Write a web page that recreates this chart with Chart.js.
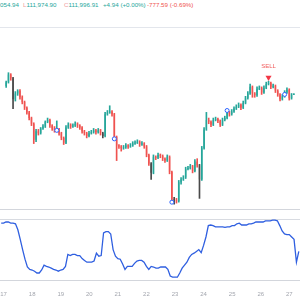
<!DOCTYPE html>
<html>
<head>
<meta charset="utf-8">
<script src="https://cdn.jsdelivr.net/npm/chart.js@4.4.1/dist/chart.umd.min.js"></script>
<style>
    html, body { margin: 0; padding: 0; background: #ffffff; }
    #wrap { position: relative; width: 300px; height: 300px; overflow: hidden; font-family: "Liberation Sans", Arial, sans-serif; }
    .hdr { position: absolute; top: 0; font-size: 6.2px; line-height: 10px; white-space: nowrap; }
    .up { color: #26a69a; }
    .dn { color: #ef5350; }
    .lbl { color: #f0a0a0; }
    .sep { position: absolute; left: 0; width: 300px; height: 1px; }
    canvas { position: absolute; left: 0; }
</style>
</head>
<body>
<div id="wrap">
    <div class="hdr up" style="left:0">054.94</div>
    <div class="hdr" style="left:23px"><span class="lbl">L</span><span class="up">111,974.90</span></div>
    <div class="hdr" style="left:64px"><span class="lbl">C</span><span class="up">111,996.91</span></div>
    <div class="hdr up" style="left:103px">+4.94 (+0.00%)</div>
    <div class="hdr dn" style="left:147px">-777.59 (-0.69%)</div>

    <div class="sep" style="top:27px; background:#e3e6ec"></div>
    <div class="sep" style="top:209px; background:#d3d6dc"></div>
    <div class="sep" style="top:219px; background:#d8dbe1"></div>
    <div class="sep" style="top:280px; background:#d3d6dc"></div>

    <canvas id="priceChart" width="300" height="182" style="top:28px"></canvas>
    <canvas id="oscChart" width="300" height="90" style="top:210px"></canvas>
</div>

<script>
// 2h candles, first one starts Aug 16 22:00
const firstOpen = 112720;

const close = [
    113040, 113680, 113360, 111600, 112080, 112320, 111760, 111360, 110880, 110480,
    110000, 109520, 108160, 108880, 108720, 109120, 109280, 109680, 109840, 109360,
    109120, 108960, 109040, 108720, 108320, 107920, 109200, 109440, 109280, 109360,
    109520, 109360, 109200, 108880, 108720, 108480, 108720, 108800, 108960, 108800,
    108960, 108720, 108480, 110320, 110480, 110560, 110320, 108400, 107680, 107600,
    107440, 107520, 107680, 107600, 107680, 107840, 107920, 108000, 107760, 107840,
    107600, 106880, 106160, 105360, 106720, 106640, 106880, 106800, 106560, 106400,
    106720, 105440, 103120, 103040, 102960, 104560, 104800, 104960, 105680, 105760,
    105920, 105520, 106320, 106000, 104800, 107440, 109040, 109840, 109680, 109440,
    109840, 109920, 109760, 109440, 109840, 110000, 110480, 110320, 110560, 110800,
    110960, 111120, 110880, 111280, 111680, 112080, 112640, 112080, 111920, 112480,
    112560, 112160, 112560, 112880, 112960, 112640, 112720, 112320, 112000, 111600,
    111840, 112160, 112400, 111680, 111991.97, 111996.91
];

const high = [
    113120, 113840, 113760, 113440, 112240, 112400, 112400, 111880, 111440, 110960,
    110560, 110080, 109600, 109040, 109040, 109200, 109440, 109760, 110000, 109920,
    109440, 109280, 109760, 109120, 108800, 108400, 109360, 109600, 109520, 109520,
    109680, 109600, 109440, 109280, 108960, 108800, 108880, 108960, 109120, 109040,
    109120, 109040, 108800, 110480, 110640, 111040, 110640, 110400, 108480, 107760,
    107680, 107680, 107840, 107760, 107840, 108000, 108080, 108160, 108080, 108000,
    107920, 107680, 106960, 106240, 106880, 106800, 107040, 106960, 106880, 106640,
    106880, 106800, 105520, 103280, 103200, 104720, 104960, 105120, 105840, 105920,
    106080, 106000, 106480, 106560, 106080, 107600, 109200, 110480, 110000, 109760,
    110000, 110080, 110000, 109840, 110000, 110160, 110640, 110560, 110720, 110960,
    111120, 111280, 111200, 111440, 111840, 112240, 112880, 112720, 112160, 112640,
    112720, 112640, 112720, 113040, 113120, 113040, 112880, 112800, 112400, 112080,
    112000, 112320, 112560, 112480, 112080, 112054.94
];

const low = [
    112600, 112960, 113200, 110800, 111440, 111920, 111600, 111200, 110720, 110320,
    109840, 109360, 107840, 108000, 108560, 108640, 109040, 109200, 109600, 109200,
    108960, 108800, 108880, 108560, 108160, 107760, 107840, 109120, 109120, 109200,
    109280, 109200, 109040, 108720, 108560, 108320, 108400, 108640, 108720, 108640,
    108720, 108560, 108320, 108400, 110240, 110400, 110160, 108240, 106400, 107440,
    107200, 107360, 107440, 107440, 107520, 107600, 107760, 107840, 107600, 107680,
    107440, 106720, 106000, 104800, 105280, 106480, 106560, 106640, 106400, 106240,
    106320, 105280, 102800, 102720, 102800, 102880, 104400, 104720, 104880, 105600,
    105680, 105360, 105440, 105840, 103200, 104720, 107360, 108960, 109520, 109280,
    109360, 109760, 109600, 109280, 109360, 109760, 109920, 110160, 110240, 110480,
    110720, 110880, 110720, 110800, 111200, 111600, 112000, 111760, 111760, 111840,
    112400, 112000, 112080, 112480, 112800, 112480, 112560, 112160, 111840, 111440,
    111520, 111760, 112080, 111520, 111600, 111974.90
];

// lower pane oscillator (0-100)
const osc = [
    93, 93, 95, 95, 93, 93, 92, 82, 66, 49,
    33, 20, 16, 15, 13, 10, 10, 15, 23, 21,
    20, 18, 16, 15, 13, 15, 16, 21, 41, 39,
    41, 41, 39, 39, 34, 31, 28, 28, 28, 30,
    43, 38, 39, 77, 79, 79, 75, 49, 38, 34,
    33, 25, 16, 21, 21, 21, 26, 30, 31, 31,
    28, 21, 16, 21, 20, 18, 18, 20, 20, 20,
    16, 5, 3, 3, 3, 10, 18, 23, 28, 36,
    41, 43, 46, 49, 44, 56, 70, 89, 90, 89,
    87, 87, 87, 87, 86, 87, 87, 89, 89, 92,
    93, 90, 90, 90, 92, 92, 93, 95, 95, 95,
    95, 97, 97, 97, 98, 98, 97, 89, 80, 75,
    74, 74, 70, 66, 28, 46
];

// signal markers
const circleIdx = [22, 47, 72, 96, 121];
const circlePrice = [108960, 108240, 102880, 110640, 112000];
const sellIdx = 114;
const sellPrice = 113440;
const darkIdx = [3, 42, 63, 73, 84];

const dayTicks = ['17', '18', '19', '20', '21', '22', '23', '24', '25', '26', '27'];

document.addEventListener('DOMContentLoaded', function() {
    const UP = '#26a69a';
    const DOWN = '#ef5350';
    const DARK = '#4a4a4a';

    // time labels for each candle
    const labels = close.map((_, i) => {
        const h = 22 + 2 * i;
        return (16 + Math.floor(h / 24)) + ' ' + String(h % 24).padStart(2, '0') + ':00';
    });

    const open = close.map((c, i) => i === 0 ? firstOpen : close[i - 1]);
    const colors = close.map((c, i) => {
        if (darkIdx.includes(i)) return DARK;
        return c >= open[i] ? UP : DOWN;
    });

    const bodies = close.map((c, i) => [open[i], c]);
    const wicks = high.map((h, i) => [low[i], h]);
    const circles = labels.map((_, i) => {
        const k = circleIdx.indexOf(i);
        return k >= 0 ? circlePrice[k] : null;
    });
    const sells = labels.map((_, i) => i === sellIdx ? sellPrice : null);

    // "SELL" caption above the triangle
    const sellLabel = {
        id: 'sellLabel',
        afterDatasetsDraw(chart) {
            const ctx = chart.ctx;
            const x = chart.scales.x.getPixelForValue(sellIdx);
            const y = chart.scales.y.getPixelForValue(sellPrice);
            ctx.save();
            ctx.fillStyle = '#f05a5a';
            ctx.font = '6px "Liberation Sans", Arial, sans-serif';
            ctx.textAlign = 'center';
            ctx.textBaseline = 'middle';
            ctx.fillText('SELL', x, y - 11);
            ctx.restore();
        }
    };

    new Chart(document.getElementById('priceChart'), {
        type: 'bar',
        data: {
            labels: labels,
            datasets: [
                {
                    type: 'line',
                    data: sells,
                    showLine: false,
                    pointStyle: 'triangle',
                    rotation: 180,
                    pointRadius: 3.5,
                    pointBackgroundColor: '#f23645',
                    pointBorderColor: '#f23645',
                    pointBorderWidth: 0,
                    order: 0
                },
                {
                    type: 'line',
                    data: circles,
                    showLine: false,
                    pointRadius: 2,
                    pointBackgroundColor: '#ffffff',
                    pointBorderColor: '#2962ff',
                    pointBorderWidth: 1,
                    order: 1
                },
                {
                    data: bodies,
                    backgroundColor: colors,
                    barPercentage: 0.55,
                    categoryPercentage: 1,
                    minBarLength: 1,
                    grouped: false,
                    order: 2
                },
                {
                    data: wicks,
                    backgroundColor: colors,
                    barThickness: 1,
                    grouped: false,
                    order: 3
                }
            ]
        },
        options: {
            responsive: false,
            animation: false,
            layout: { padding: 0 },
            plugins: { legend: { display: false }, tooltip: { enabled: false } },
            scales: {
                x: { display: false, offset: true },
                y: { display: false, min: 102640, max: 117200 }
            }
        },
        plugins: [sellLabel]
    });

    new Chart(document.getElementById('oscChart'), {
        type: 'line',
        data: {
            labels: labels,
            datasets: [{
                data: osc,
                borderColor: '#2f5fe0',
                borderWidth: 1.3,
                pointRadius: 0,
                tension: 0
            }]
        },
        options: {
            responsive: false,
            animation: false,
            layout: { padding: { top: 9, bottom: 1.8, left: 0, right: 0 } },
            plugins: { legend: { display: false }, tooltip: { enabled: false } },
            scales: {
                x: {
                    offset: true,
                    grid: { display: false, drawTicks: true, tickLength: 12 },
                    border: { display: false },
                    ticks: {
                        autoSkip: false,
                        maxRotation: 0,
                        minRotation: 0,
                        padding: 0,
                        color: '#a3a6ae',
                        font: { size: 6, family: '"Liberation Sans", Arial, sans-serif' },
                        callback: function(value, index) {
                            const l = labels[index];
                            if (!l.endsWith(' 00:00')) return '';
                            const day = l.split(' ')[0];
                            return dayTicks.includes(day) ? day : '';
                        }
                    }
                },
                y: { display: false, min: 0, max: 100 }
            }
        }
    });
});
</script>
</body>
</html>
